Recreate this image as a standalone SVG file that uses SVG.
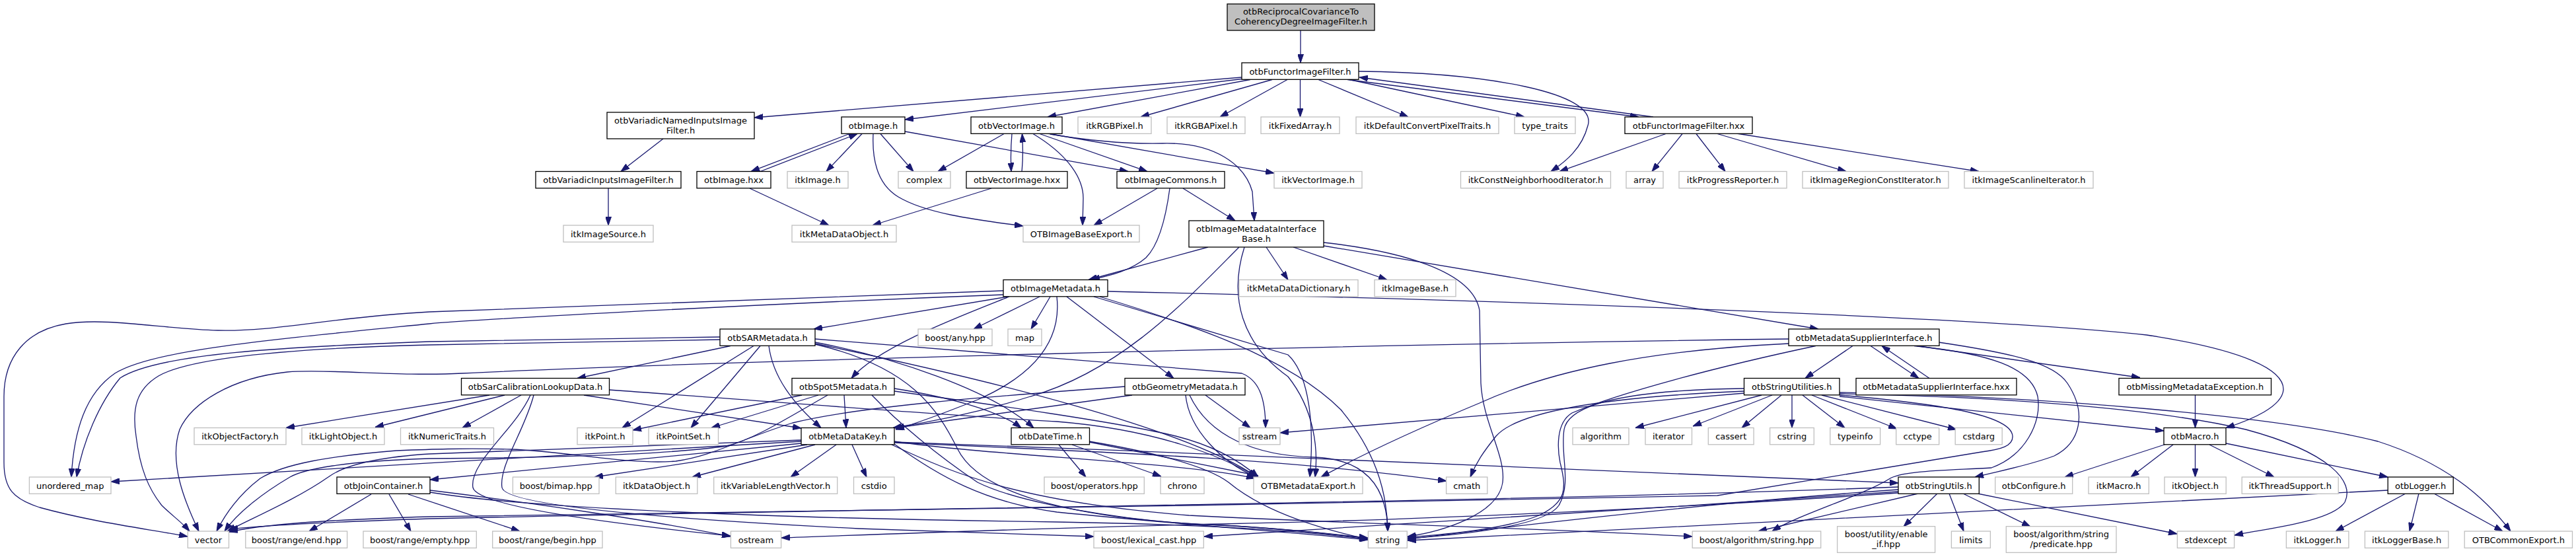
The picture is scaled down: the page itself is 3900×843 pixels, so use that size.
<svg xmlns="http://www.w3.org/2000/svg" width="3900" height="843" viewBox="0 0 3900 843">
<style>
.n rect{fill:#fff;stroke:#000;stroke-width:1.3}
.g rect{fill:#fff;stroke:#bfbfbf;stroke-width:1.3}
.r rect{fill:#bfbfbf;stroke:#000;stroke-width:1.3}
text{font-family:"DejaVu Sans","Liberation Sans",sans-serif;font-size:13px;text-anchor:middle;fill:#000}
#edges path{fill:none;stroke:#191970;stroke-width:1.3;marker-end:url(#a)}
</style>
<defs>
<marker id="a" viewBox="0 0 13 9" refX="13" refY="4.5" markerWidth="13" markerHeight="9" markerUnits="userSpaceOnUse" orient="auto"><path d="M0,0 L13,4.5 L0,9 z" fill="#191970" stroke="#191970" stroke-width="1"/></marker>
</defs>
<rect width="3900" height="843" fill="#fff"/>
<g id="edges">
<path d="M1969,46 L1969,95"/>
<path d="M1880,117 L1142,178"/>
<path d="M1880,119.5 L1370,181"/>
<path d="M1893,120.5 L1586,177"/>
<path d="M1926,120.5 L1727,177"/>
<path d="M1949,120.5 L1847,177"/>
<path d="M1968.5,120.5 L1968.5,177"/>
<path d="M1996,120.5 L2132,177"/>
<path d="M2043,120.5 L2308,177"/>
<path d="M2040,120.5 L2481,177"/>
<path d="M2503,177 L2058,117"/>
<path d="M2057,108 C2250,110 2420,140 2404,190 C2395,225 2370,245 2348,259.5"/>
<path d="M2522,202.5 L2361,259.5"/>
<path d="M2547,202.5 L2501,259.5"/>
<path d="M2568,202.5 L2612,259.5"/>
<path d="M2600,202.5 L2795,259.5"/>
<path d="M2629,202 L2996,259.5"/>
<path d="M1004,210 L940,259.5"/>
<path d="M921,285 L921,341"/>
<path d="M1286,202.5 L1137,259.5"/>
<path d="M1151,259.5 L1298,202.5"/>
<path d="M1305,202.5 L1251,259.5"/>
<path d="M1333,202.5 L1383,259.5"/>
<path d="M1322,202.5 C1320,245 1330,280 1360,298 C1400,322 1470,332 1549,342"/>
<path d="M1370,199 L1708,259.5"/>
<path d="M1135,285 L1255,341"/>
<path d="M1520,202.5 L1420,259.5"/>
<path d="M1532,202.5 C1530,225 1530,240 1531,259.5"/>
<path d="M1547,259.5 C1549,240 1549,225 1547.5,202.5"/>
<path d="M1564,202.5 C1610,230 1640,265 1640,300 L1639,341"/>
<path d="M1574,202.5 L1737,259.5"/>
<path d="M1586,202 L1929,262"/>
<path d="M1590,203 C1660,215 1710,218 1760,217 C1840,215 1885,250 1896,290 L1899,334"/>
<path d="M1501,285 L1321,341"/>
<path d="M1752,285 L1656,341"/>
<path d="M1791,285 L1870,334"/>
<path d="M1771,285 C1765,330 1755,370 1735,390 C1712,410 1680,417 1652,423.5"/>
<path d="M1829,374 L1648,423.5"/>
<path d="M1876,374 C1800,450 1700,560 1560,600 C1480,625 1400,640 1352,647.5"/>
<path d="M1917,374 L1950,423.5"/>
<path d="M1884,374 C1860,450 1880,520 1950,570 C1990,620 1996,680 1991,722"/>
<path d="M1958,374 L2100,423.5"/>
<path d="M2004,367 C2120,380 2230,410 2240,470 L2242,580 C2245,640 2280,690 2275,730 C2268,780 2180,805 2131,812"/>
<path d="M2004,372 L2753,498"/>
<path d="M1574,449 L1474,498"/>
<path d="M1590,449 L1561,498"/>
<path d="M1615,449 L1777,572.5"/>
<path d="M1526,449 L1232,498"/>
<path d="M1528,449 C1450,480 1330,525 1289,572.5"/>
<path d="M1600,449 C1608,520 1560,570 1480,605 C1430,625 1390,640 1356,650"/>
<path d="M1519,440 C1100,455 800,465 650,472 C500,480 420,502 330,500 C250,498 160,480 100,490 C40,500 6,540 6,600 L6,700 C6,740 20,755 60,768 C140,790 220,800 284,812"/>
<path d="M1519,446 C1100,462 700,485 650,490 C400,515 230,530 174,565 C130,595 112,650 108,722"/>
<path d="M1656,449 L1950,537 C1975,560 1992,620 1983,722"/>
<path d="M1665,449 C1800,490 1950,540 2030,620 C2080,680 2100,740 2101,804"/>
<path d="M1677,441 C2300,455 3000,480 3250,507 C3400,530 3458,560 3457,590 C3455,615 3410,635 3370,647.5"/>
<path d="M1106,523.5 L874,572.5"/>
<path d="M1141,523.5 L942,647.5"/>
<path d="M1151,523.5 L1046,647.5"/>
<path d="M1164,523.5 C1170,570 1200,610 1243,647.5"/>
<path d="M1090,510 L650,517 C430,525 240,535 182,572 C150,610 125,670 116,722"/>
<path d="M1090,514 L650,522 C450,527 290,540 240,569 C205,590 200,620 206,660 C212,710 225,740 245,765 C260,780 275,790 287,804"/>
<path d="M1234,513 L1880,565 C1905,575 1916,600 1916,647.5"/>
<path d="M1234,518 C1350,540 1500,590 1565,647.5"/>
<path d="M1234,520 C1500,575 1800,650 1903,722"/>
<path d="M1234,521 C1380,555 1420,620 1450,680 C1480,740 1600,785 1850,795 C1950,800 2030,810 2071,814"/>
<path d="M741,598 L433,647.5"/>
<path d="M764,598 L568,646.5"/>
<path d="M789,598 L700,647.5"/>
<path d="M884,598 L1213,648"/>
<path d="M922,590 C1200,610 1450,630 1600,638 C1750,650 1850,690 1903,722"/>
<path d="M803,598 C780,650 710,700 716,738 C722,765 900,790 1106,811"/>
<path d="M808,598 C795,650 755,705 760,738 C765,765 1000,785 1300,800 C1450,806 1580,810 1656,812"/>
<path d="M1214,598 L958,651"/>
<path d="M1239,598 L1077,647.5"/>
<path d="M1278,598 L1281,647.5"/>
<path d="M1253,598 C1180,640 1140,665 1100,675 C1000,690 800,693 650,694 C520,698 460,710 439,722 C400,745 360,775 340,804"/>
<path d="M1354,588 C1430,600 1510,620 1546,647.5"/>
<path d="M1354,592 C1500,612 1700,640 1780,660 C1840,675 1880,700 1905,722"/>
<path d="M1320,598 C1360,640 1420,690 1480,730 C1540,760 1700,790 1850,795 C1950,800 2030,810 2071,815"/>
<path d="M1825,598 L1893,647.5"/>
<path d="M1795,598 C1800,650 1850,700 1902,722"/>
<path d="M1801,598 C1830,660 1900,690 1990,692 C2070,695 2100,740 2101,804"/>
<path d="M1714,598 L1356,647.5"/>
<path d="M1703,585 C1500,600 1300,615 1200,640 C1120,665 1080,690 1023,698 C950,704 850,682 774,680 C700,678 650,680 600,682 C500,690 430,702 394,724 C360,750 340,780 328,804"/>
<path d="M1603,673 L1644,722"/>
<path d="M1623,673 L1758,721"/>
<path d="M1649,669 L1905,720"/>
<path d="M1649,668 C1720,680 1820,700 1860,730 C1890,755 1950,790 2071,816"/>
<path d="M1213,671 L651,726"/>
<path d="M1213,668 L168,729"/>
<path d="M1222,673 L900,722"/>
<path d="M1234,673 L1048,722"/>
<path d="M1266,673 L1197,722"/>
<path d="M1290,673 L1312,722"/>
<path d="M1213,666 C1000,675 800,683 650,687 C570,692 520,705 497,722 C450,755 380,785 344,804"/>
<path d="M1354,668 C1500,690 1800,700 1900,724"/>
<path d="M1354,670 C1700,685 1950,695 2190,728"/>
<path d="M1354,669 C1900,688 2500,715 2874,731"/>
<path d="M1354,672 C1420,720 1490,760 1600,775 C1800,795 1950,805 2071,817"/>
<path d="M1350,673 C1450,720 1550,760 1800,780 C2100,795 2350,800 2562,812"/>
<path d="M562,748 L468,804"/>
<path d="M589,748 L622,804"/>
<path d="M618,748 L787,804"/>
<path d="M651,742 C800,760 1000,790 1106,812"/>
<path d="M651,745 C800,770 1200,785 1600,790 C1900,795 2000,808 2071,816"/>
<path d="M2805,523.5 L2733,572.5"/>
<path d="M2832,523.5 L2905,572.5"/>
<path d="M2921,572.5 L2849,523.5"/>
<path d="M2902,523.5 L3240,571.5"/>
<path d="M2708,513 C2000,522 1050,548 700,565 C600,570 500,558 435,563 C350,572 290,610 272,650 C255,700 280,760 301,804"/>
<path d="M2708,520 C2500,530 2350,560 2240,610 C2120,660 2040,700 2000,722"/>
<path d="M2749,523.5 C2600,555 2450,595 2380,625 C2355,640 2358,680 2362,700 C2372,740 2372,760 2330,780 C2280,800 2200,808 2131,813"/>
<path d="M2898,523.5 C3010,535 3075,555 3085,600 C3092,640 3065,690 3015,708 C2950,712 2880,712 2860,725 C2820,750 2720,780 2683,804"/>
<path d="M2935,518 C3050,535 3110,550 3130,580 C3160,625 3150,670 3110,690 C3070,705 3030,712 2990,722"/>
<path d="M2667,598 L2476,647.5"/>
<path d="M2683,598 L2563,645"/>
<path d="M2697,598 L2637,647.5"/>
<path d="M2713,598 L2713,647.5"/>
<path d="M2729,598 L2793,647.5"/>
<path d="M2743,598 L2872,649"/>
<path d="M2758,598 L2962,650"/>
<path d="M2641,595 L1938,655"/>
<path d="M2641,592 C2450,600 2300,620 2265,660 C2245,685 2235,700 2226,722"/>
<path d="M2641,588 C2470,590 2375,610 2368,650 C2362,690 2380,730 2360,765 C2340,795 2230,808 2131,815"/>
<path d="M2785,598 C2950,612 3045,630 3047,660 C3048,675 3030,680 3000,684 L2600,750 C2000,765 800,778 650,782 C480,787 390,795 347,805"/>
<path d="M2785,596 C3000,600 3250,615 3400,650 C3530,685 3565,730 3550,760 C3530,790 3430,800 3383,810"/>
<path d="M2785,594 C3100,600 3450,630 3600,668 C3700,700 3760,750 3801,804"/>
<path d="M2785,600 L3276,652"/>
<path d="M2904,747 L2662,804"/>
<path d="M2933,747 L2882,797"/>
<path d="M2951,747 L2973,804"/>
<path d="M2972,747 L3074,797"/>
<path d="M2994,747 L3296,808"/>
<path d="M2874,737 C2300,760 1300,770 650,785 C500,790 400,795 347,801"/>
<path d="M2874,741 C2600,760 2300,795 2131,816"/>
<path d="M2874,744 C2500,770 2000,800 1823,812"/>
<path d="M2874,746 C2500,772 2100,788 1850,793 C1600,798 1300,810 1183,814"/>
<path d="M3323.5,598 L3323.5,647.5"/>
<path d="M3290,673 L3226,722"/>
<path d="M3283,671 L3126,722"/>
<path d="M3323.5,673 L3323.5,722"/>
<path d="M3345,673 L3443,722"/>
<path d="M3370,671 L3615,722"/>
<path d="M3642,747 L3536,804"/>
<path d="M3662,747 L3648,804"/>
<path d="M3685,747 L3789,804"/>
<path d="M3615,742 C3200,766 2600,792 2131,818"/>
</g>
<g id="n-root" class="r"><rect x="1858" y="6" width="223" height="40"/><text x="1969.5" y="22">otbReciprocalCovarianceTo</text><text x="1969.5" y="37">CoherencyDegreeImageFilter.h</text></g>
<g id="n-fif" class="n"><rect x="1880" y="95" width="177" height="25.3"/><text x="1968.5" y="112.5">otbFunctorImageFilter.h</text></g>
<g id="n-vni" class="n"><rect x="919" y="170" width="223" height="40"/><text x="1030.5" y="186.5">otbVariadicNamedInputsImage</text><text x="1030.5" y="201.5">Filter.h</text></g>
<g id="n-img" class="n"><rect x="1274" y="177" width="96" height="25.3"/><text x="1322" y="194.5">otbImage.h</text></g>
<g id="n-vim" class="n"><rect x="1470" y="177" width="138" height="25.3"/><text x="1539" y="194.5">otbVectorImage.h</text></g>
<g id="n-rgb" class="g"><rect x="1632" y="177" width="111" height="25.3"/><text x="1687.5" y="194.5">itkRGBPixel.h</text></g>
<g id="n-rgba" class="g"><rect x="1767" y="177" width="118" height="25.3"/><text x="1826" y="194.5">itkRGBAPixel.h</text></g>
<g id="n-fix" class="g"><rect x="1909" y="177" width="119" height="25.3"/><text x="1968.5" y="194.5">itkFixedArray.h</text></g>
<g id="n-dcpt" class="g"><rect x="2053" y="177" width="216" height="25.3"/><text x="2161" y="194.5">itkDefaultConvertPixelTraits.h</text></g>
<g id="n-tt" class="g"><rect x="2293" y="177" width="92" height="25.3"/><text x="2339" y="194.5">type_traits</text></g>
<g id="n-fifx" class="n"><rect x="2460" y="177" width="193" height="25.3"/><text x="2556.5" y="194.5">otbFunctorImageFilter.hxx</text></g>
<g id="n-vii" class="n"><rect x="811" y="259.5" width="220" height="25.3"/><text x="921" y="277">otbVariadicInputsImageFilter.h</text></g>
<g id="n-imgx" class="n"><rect x="1055" y="259.5" width="112" height="25.3"/><text x="1111" y="277">otbImage.hxx</text></g>
<g id="n-itkimg" class="g"><rect x="1192" y="259.5" width="92" height="25.3"/><text x="1238" y="277">itkImage.h</text></g>
<g id="n-cplx" class="g"><rect x="1360" y="259.5" width="79" height="25.3"/><text x="1399.5" y="277">complex</text></g>
<g id="n-vimx" class="n"><rect x="1463" y="259.5" width="153" height="25.3"/><text x="1539.5" y="277">otbVectorImage.hxx</text></g>
<g id="n-imc" class="n"><rect x="1691" y="259.5" width="163" height="25.3"/><text x="1772.5" y="277">otbImageCommons.h</text></g>
<g id="n-itkvi" class="g"><rect x="1929" y="259.5" width="133" height="25.3"/><text x="1995.5" y="277">itkVectorImage.h</text></g>
<g id="n-cni" class="g"><rect x="2211.5" y="259.5" width="227" height="25.3"/><text x="2325" y="277">itkConstNeighborhoodIterator.h</text></g>
<g id="n-arr" class="g"><rect x="2462" y="259.5" width="56" height="25.3"/><text x="2490" y="277">array</text></g>
<g id="n-pr" class="g"><rect x="2542" y="259.5" width="163" height="25.3"/><text x="2623.5" y="277">itkProgressReporter.h</text></g>
<g id="n-irci" class="g"><rect x="2729" y="259.5" width="221" height="25.3"/><text x="2839.5" y="277">itkImageRegionConstIterator.h</text></g>
<g id="n-isi" class="g"><rect x="2974" y="259.5" width="195" height="25.3"/><text x="3071.5" y="277">itkImageScanlineIterator.h</text></g>
<g id="n-is" class="g"><rect x="853" y="341" width="136" height="25.3"/><text x="921" y="358.5">itkImageSource.h</text></g>
<g id="n-mdo" class="g"><rect x="1199" y="341" width="158" height="25.3"/><text x="1278" y="358.5">itkMetaDataObject.h</text></g>
<g id="n-ibe" class="g"><rect x="1549" y="341" width="176" height="25.3"/><text x="1637" y="358.5">OTBImageBaseExport.h</text></g>
<g id="n-imib" class="n"><rect x="1800" y="334" width="204" height="40"/><text x="1902" y="350.5">otbImageMetadataInterface</text><text x="1902" y="365.5">Base.h</text></g>
<g id="n-imd" class="n"><rect x="1519" y="423.5" width="158" height="25.3"/><text x="1598" y="441">otbImageMetadata.h</text></g>
<g id="n-mdd" class="g"><rect x="1876" y="423.5" width="180" height="25.3"/><text x="1966" y="441">itkMetaDataDictionary.h</text></g>
<g id="n-ib" class="g"><rect x="2081" y="423.5" width="123" height="25.3"/><text x="2142.5" y="441">itkImageBase.h</text></g>
<g id="n-sar" class="n"><rect x="1090" y="498" width="144" height="25.3"/><text x="1162" y="515.5">otbSARMetadata.h</text></g>
<g id="n-any" class="g"><rect x="1390" y="498" width="112" height="25.3"/><text x="1446" y="515.5">boost/any.hpp</text></g>
<g id="n-map" class="g"><rect x="1526" y="498" width="51" height="25.3"/><text x="1551.5" y="515.5">map</text></g>
<g id="n-msi" class="n"><rect x="2708" y="498" width="228" height="25.3"/><text x="2822" y="515.5">otbMetadataSupplierInterface.h</text></g>
<g id="n-scl" class="n"><rect x="698.5" y="572.5" width="224" height="25.3"/><text x="810.5" y="590">otbSarCalibrationLookupData.h</text></g>
<g id="n-spot" class="n"><rect x="1199" y="572.5" width="155" height="25.3"/><text x="1276.5" y="590">otbSpot5Metadata.h</text></g>
<g id="n-geo" class="n"><rect x="1703" y="572.5" width="182" height="25.3"/><text x="1794" y="590">otbGeometryMetadata.h</text></g>
<g id="n-su" class="n"><rect x="2640.5" y="572.5" width="144.5" height="25.3"/><text x="2712.8" y="590">otbStringUtilities.h</text></g>
<g id="n-msix" class="n"><rect x="2810" y="572.5" width="243" height="25.3"/><text x="2931.5" y="590">otbMetadataSupplierInterface.hxx</text></g>
<g id="n-mme" class="n"><rect x="3208" y="572.5" width="230.5" height="25.3"/><text x="3323.3" y="590">otbMissingMetadataException.h</text></g>
<g id="n-of" class="g"><rect x="294" y="647.5" width="139" height="25.3"/><text x="363.5" y="665">itkObjectFactory.h</text></g>
<g id="n-lo" class="g"><rect x="457" y="647.5" width="125" height="25.3"/><text x="519.5" y="665">itkLightObject.h</text></g>
<g id="n-nt" class="g"><rect x="606.5" y="647.5" width="141" height="25.3"/><text x="677" y="665">itkNumericTraits.h</text></g>
<g id="n-pt" class="g"><rect x="874" y="647.5" width="84" height="25.3"/><text x="916" y="665">itkPoint.h</text></g>
<g id="n-ps" class="g"><rect x="982" y="647.5" width="105.5" height="25.3"/><text x="1034.7" y="665">itkPointSet.h</text></g>
<g id="n-mdk" class="n"><rect x="1213" y="647.5" width="141" height="25.3"/><text x="1283.5" y="665">otbMetaDataKey.h</text></g>
<g id="n-dt" class="n"><rect x="1531" y="647.5" width="118.5" height="25.3"/><text x="1590.2" y="665">otbDateTime.h</text></g>
<g id="n-ss" class="g"><rect x="1876" y="647.5" width="62" height="25.3"/><text x="1907" y="665">sstream</text></g>
<g id="n-alg" class="g"><rect x="2381" y="647.5" width="85" height="25.3"/><text x="2423.5" y="665">algorithm</text></g>
<g id="n-itr" class="g"><rect x="2491" y="647.5" width="70.5" height="25.3"/><text x="2526.2" y="665">iterator</text></g>
<g id="n-cas" class="g"><rect x="2586.3" y="647.5" width="68.8" height="25.3"/><text x="2620.7" y="665">cassert</text></g>
<g id="n-cstr" class="g"><rect x="2679.6" y="647.5" width="66.7" height="25.3"/><text x="2713" y="665">cstring</text></g>
<g id="n-ti" class="g"><rect x="2770.8" y="647.5" width="75.8" height="25.3"/><text x="2808.7" y="665">typeinfo</text></g>
<g id="n-cct" class="g"><rect x="2870.7" y="647.5" width="65" height="25.3"/><text x="2903.2" y="665">cctype</text></g>
<g id="n-csa" class="g"><rect x="2960.2" y="647.5" width="71" height="25.3"/><text x="2995.7" y="665">cstdarg</text></g>
<g id="n-mac" class="n"><rect x="3276" y="647.5" width="94" height="25.3"/><text x="3323" y="665">otbMacro.h</text></g>
<g id="n-um" class="g"><rect x="44.4" y="722" width="123.6" height="25.3"/><text x="106.2" y="739.5">unordered_map</text></g>
<g id="n-jc" class="n"><rect x="510" y="722" width="141" height="25.3"/><text x="580.5" y="739.5">otbJoinContainer.h</text></g>
<g id="n-bim" class="g"><rect x="776.4" y="722" width="130.6" height="25.3"/><text x="841.7" y="739.5">boost/bimap.hpp</text></g>
<g id="n-do" class="g"><rect x="932.3" y="722" width="123.5" height="25.3"/><text x="994" y="739.5">itkDataObject.h</text></g>
<g id="n-vlv" class="g"><rect x="1080.7" y="722" width="187" height="25.3"/><text x="1174.2" y="739.5">itkVariableLengthVector.h</text></g>
<g id="n-cstd" class="g"><rect x="1292.5" y="722" width="61.5" height="25.3"/><text x="1323.2" y="739.5">cstdio</text></g>
<g id="n-ops" class="g"><rect x="1581" y="722" width="151.3" height="25.3"/><text x="1656.7" y="739.5">boost/operators.hpp</text></g>
<g id="n-chr" class="g"><rect x="1757" y="722" width="66" height="25.3"/><text x="1790" y="739.5">chrono</text></g>
<g id="n-mde" class="g"><rect x="1898" y="722" width="165" height="25.3"/><text x="1980.5" y="739.5">OTBMetadataExport.h</text></g>
<g id="n-cm" class="g"><rect x="2189.6" y="722" width="62.2" height="25.3"/><text x="2220.7" y="739.5">cmath</text></g>
<g id="n-sut" class="n"><rect x="2874" y="722" width="122.3" height="25.3"/><text x="2935.2" y="739.5">otbStringUtils.h</text></g>
<g id="n-cfg" class="g"><rect x="3020.7" y="722" width="117" height="25.3"/><text x="3079.2" y="739.5">otbConfigure.h</text></g>
<g id="n-itkm" class="g"><rect x="3162" y="722" width="91.3" height="25.3"/><text x="3207.7" y="739.5">itkMacro.h</text></g>
<g id="n-itko" class="g"><rect x="3277" y="722" width="93.2" height="25.3"/><text x="3323.6" y="739.5">itkObject.h</text></g>
<g id="n-ts" class="g"><rect x="3394.2" y="722" width="146" height="25.3"/><text x="3467.2" y="739.5">itkThreadSupport.h</text></g>
<g id="n-log" class="n"><rect x="3615.2" y="722" width="99" height="25.3"/><text x="3664.7" y="739.5">otbLogger.h</text></g>
<g id="n-vec" class="g"><rect x="284.3" y="804" width="62.2" height="25.3"/><text x="315.4" y="821.5">vector</text></g>
<g id="n-re" class="g"><rect x="371.8" y="804" width="153.8" height="25.3"/><text x="448.7" y="821.5">boost/range/end.hpp</text></g>
<g id="n-remp" class="g"><rect x="550" y="804" width="171.3" height="25.3"/><text x="635.7" y="821.5">boost/range/empty.hpp</text></g>
<g id="n-rb" class="g"><rect x="745.7" y="804" width="166.3" height="25.3"/><text x="828.9" y="821.5">boost/range/begin.hpp</text></g>
<g id="n-ost" class="g"><rect x="1106.4" y="804" width="76.2" height="25.3"/><text x="1144.5" y="821.5">ostream</text></g>
<g id="n-lc" class="g"><rect x="1656" y="804" width="166.3" height="25.3"/><text x="1739.2" y="821.5">boost/lexical_cast.hpp</text></g>
<g id="n-str" class="g"><rect x="2071.4" y="804" width="58.9" height="25.3"/><text x="2100.9" y="821.5">string</text></g>
<g id="n-bas" class="g"><rect x="2562.2" y="804" width="194.5" height="25.3"/><text x="2659.5" y="821.5">boost/algorithm/string.hpp</text></g>
<g id="n-eif" class="g"><rect x="2781.6" y="796.7" width="148" height="39.6"/><text x="2855.6" y="813.4">boost/utility/enable</text><text x="2855.6" y="827.7">_if.hpp</text></g>
<g id="n-lim" class="g"><rect x="2954.4" y="804" width="59" height="25.3"/><text x="2983.9" y="821.5">limits</text></g>
<g id="n-pred" class="g"><rect x="3037.3" y="796.7" width="166.7" height="39.6"/><text x="3120.7" y="813.4">boost/algorithm/string</text><text x="3120.7" y="827.7">/predicate.hpp</text></g>
<g id="n-ste" class="g"><rect x="3296.4" y="804" width="86.2" height="25.3"/><text x="3339.5" y="821.5">stdexcept</text></g>
<g id="n-itkl" class="g"><rect x="3461.4" y="804" width="94.5" height="25.3"/><text x="3508.7" y="821.5">itkLogger.h</text></g>
<g id="n-itklb" class="g"><rect x="3580.4" y="804" width="126.4" height="25.3"/><text x="3643.6" y="821.5">itkLoggerBase.h</text></g>
<g id="n-oce" class="g"><rect x="3731.2" y="804" width="163.3" height="25.3"/><text x="3812.9" y="821.5">OTBCommonExport.h</text></g>
</svg>
